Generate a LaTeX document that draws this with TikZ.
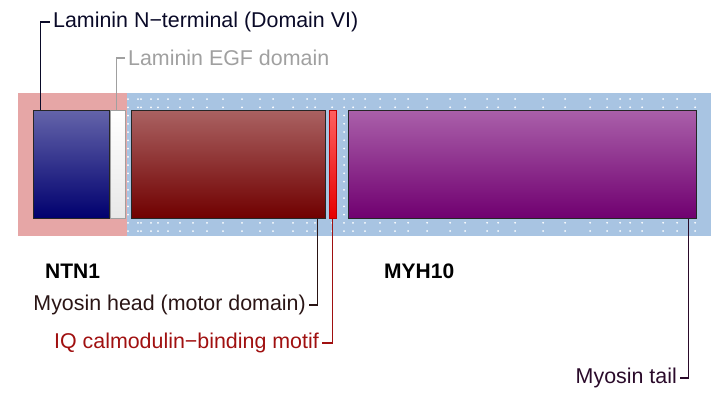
\documentclass[tikz,border=0pt]{standalone}
\usepackage{fontspec}
\setmainfont{Liberation Sans}
\usetikzlibrary{calc}
\definecolor{pinkbg}{HTML}{E6A6A6}
\definecolor{bluebg}{HTML}{A8C4E2}
\definecolor{cnterm}{HTML}{0A0A28}
\definecolor{cegf}{HTML}{A0A0A0}
\definecolor{chead}{HTML}{2A1515}
\definecolor{ciq}{HTML}{A01010}
\definecolor{ctail}{HTML}{2A0A2A}
\begin{document}
\begin{tikzpicture}[x=1pt,y=-1pt,
  dombox/.style={draw, line width=1pt, minimum height=108pt, inner sep=0pt},
  lead/.style={line width=1.5pt},
  lab/.style={font=\fontsize{21.4}{25}\selectfont, inner sep=3pt},
  gname/.style={font=\fontsize{21}{25}\selectfont\bfseries, inner sep=0pt}]
\useasboundingbox (0,0) rectangle (719,397);
% backgrounds
\fill[pinkbg] (18,93) rectangle (127,236);
\fill[bluebg] (127,93) rectangle (711,236);
% dots
\foreach \x in {128,138,141,151,158,168,180,193,207,223,242,260,273,293,307,315,332,344,353,365,380,395,408,427,450,465,487,498,515,543,565,590,607,620,630,642,663,677,695}{
  \foreach \k in {0,...,16}{
    \fill[white] (\x,{99+\k*8.25}) circle (1.0);
  }
}
% domain boxes
\node[dombox, draw=black!85, minimum width=76pt, top color={rgb,255:red,100;green,100;blue,170}, bottom color={rgb,255:red,0;green,0;blue,110}] (ntn) at (71,164) {};
\node[dombox, draw=cegf, minimum width=15pt, top color=white, bottom color={rgb,255:red,232;green,232;blue,232}] (egf) at (117.5,164) {};
\node[dombox, draw=black!85, minimum width=194pt, top color={rgb,255:red,170;green,98;blue,98}, bottom color={rgb,255:red,112;green,0;blue,0}] (head) at (228,164) {};
\node[dombox, draw={rgb,255:red,190;green,0;blue,0}, minimum width=7pt, top color={rgb,255:red,255;green,96;blue,96}, bottom color={rgb,255:red,230;green,0;blue,0}] (iq) at (332.5,164) {};
\node[dombox, draw=black!85, minimum width=348pt, top color={rgb,255:red,170;green,96;blue,170}, bottom color={rgb,255:red,112;green,0;blue,112}] (tail) at (522,164) {};
% labels
\node[lab, text=cnterm, anchor=west] (lnterm) at (50,22) {Laminin N−terminal (Domain VI)};
\node[lab, text=cegf, anchor=west] (legf) at (125,58) {Laminin EGF domain};
\node[lab, text=chead, anchor=east] (lhead) at (309,305) {Myosin head (motor domain)};
\node[lab, text=ciq, anchor=east] (liq) at (322,343) {IQ calmodulin−binding motif};
\node[lab, text=ctail, anchor=east] (ltail) at (680,378) {Myosin tail};
\node[gname, anchor=west] (gntn) at (45,271) {NTN1};
\node[gname, anchor=west] (gmyh) at (384,271) {MYH10};
% leaders
\draw[lead, cnterm] ($(ntn.north west)+(8,0)$) |- (lnterm.west);
\draw[lead, cegf] ($(egf.north)+(-1,0)$) |- (legf.west);
\draw[lead, chead] ($(head.south east)+(-8,0)$) |- (lhead.east);
\draw[lead, ciq] (iq.south) |- (liq.east);
\draw[lead, ctail] ($(tail.south east)+(-8,0)$) |- (ltail.east);
\end{tikzpicture}
\end{document}
